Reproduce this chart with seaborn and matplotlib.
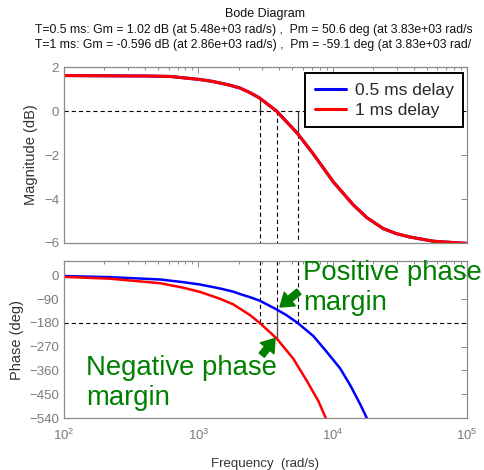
import numpy as np
import pandas as pd
import matplotlib
matplotlib.use("Agg")
import matplotlib.pyplot as plt
import seaborn as sns

# ---------------- data ----------------
series_names = ["0.5 ms delay", "1 ms delay"]
series_colors = ["#0000FF", "#FF0000"]

# magnitude (identical for both delays)
mag_freq = [100, 200, 400, 615, 1030, 1285, 1722, 2046, 2428, 2860, 3830, 5480,
            7180, 10110, 14260, 18000, 23860, 30000, 37670, 56240, 94000, 100000]
mag_db = [1.62, 1.61, 1.60, 1.58, 1.44, 1.35, 1.18, 1.05, 0.84, 0.596, 0.0, -1.02,
          -1.95, -3.22, -4.27, -4.85, -5.35, -5.58, -5.73, -5.92, -6.01, -6.02]

# phase, 0.5 ms delay
ph_freq_05 = [100, 220, 520, 770, 1030, 1450, 1820, 2040, 2430, 2860, 3830, 4500,
              5480, 7184, 9040, 11353, 13480, 15996, 17945, 18300]
ph_deg_05 = [-3, -7, -16, -26, -35, -50, -62, -71, -83, -96, -129.4, -150,
             -180, -230, -290, -352, -415, -487, -540, -552]

# phase, 1 ms delay
ph_freq_1 = [100, 220, 520, 770, 1030, 1450, 1820, 2430, 2860, 3830, 5098, 6414,
             7827, 8882, 9000]
ph_deg_1 = [-6, -13, -30, -47, -63, -89, -110, -151, -180, -239.1, -316, -399,
            -476, -540, -550]

# stability margins (from the title)
gm_db = [1.02, -0.596]
gm_freq = [5480, 2860]
pm_deg = [50.6, -59.1]
pm_freq = [3830, 3830]

title_main = "Bode Diagram"
title_lines = ["T=0.5 ms: Gm = 1.02 dB (at 5.48e+03 rad/s) ,  Pm = 50.6 deg (at 3.83e+03 rad/s",
               "T=1 ms: Gm = -0.596 dB (at 2.86e+03 rad/s) ,  Pm = -59.1 deg (at 3.83e+03 rad/"]
mag_ticks = [2, 0, -2, -4, -6]
phase_ticks = [0, -90, -180, -270, -360, -450, -540]

# ---------------- tables ----------------
mag_df = pd.concat([
    pd.DataFrame({"freq": mag_freq, "val": mag_db, "delay": series_names[0]}),
    pd.DataFrame({"freq": mag_freq, "val": mag_db, "delay": series_names[1]}),
])
ph_df = pd.concat([
    pd.DataFrame({"freq": ph_freq_05, "val": ph_deg_05, "delay": series_names[0]}),
    pd.DataFrame({"freq": ph_freq_1, "val": ph_deg_1, "delay": series_names[1]}),
])
palette = dict(zip(series_names, series_colors))

# ---------------- style ----------------
sns.set_style("white")
plt.rcParams["font.family"] = ["Liberation Sans", "DejaVu Sans"]
plt.rcParams["lines.scale_dashes"] = False

GRAY = "#8a8a8a"
TICKC = "#7a7a7a"
LABC = "#333333"
GREEN = "#008000"
DOT = (0, (3.0, 2.2))

fig = plt.figure(figsize=(4.84, 4.70), dpi=100)
ax1 = fig.add_axes([0.1322, 0.483, 0.8327, 0.374])
ax2 = fig.add_axes([0.1322, 0.1106, 0.8327, 0.3341])

sns.lineplot(data=mag_df, x="freq", y="val", hue="delay", hue_order=series_names,
             palette=palette, estimator=None, sort=True, linewidth=2.2, ax=ax1)
sns.lineplot(data=ph_df, x="freq", y="val", hue="delay", hue_order=series_names,
             palette=palette, estimator=None, sort=True, linewidth=1.8, ax=ax2,
             legend=False)

for ax in (ax1, ax2):
    ax.set_xscale("log")
    ax.set_xlim(1e2, 1e5)
    for s in ax.spines.values():
        s.set_color(GRAY)
        s.set_linewidth(0.9)
    ax.tick_params(which="both", direction="in", top=True, right=True,
                   color=GRAY, labelcolor=TICKC, labelsize=9.5, width=0.7)
    ax.tick_params(which="major", length=4)
    ax.tick_params(which="minor", length=2.5)
    ax.set_xlabel("")
    ax.set_ylabel("")

ax1.set_ylim(-6, 2)
ax1.set_yticks(mag_ticks)
ax1.tick_params(axis="x", which="both", labelbottom=False)
ax2.set_ylim(-540, 54)
ax2.set_yticks(phase_ticks)
ax2.tick_params(axis="x", pad=7)

ax1.set_ylabel("Magnitude (dB)", fontsize=10.5, color=LABC)
ax1.yaxis.set_label_coords(-0.064, 0.5)
ax2.set_ylabel("Phase (deg)", fontsize=10.5, color=LABC)
ax2.yaxis.set_label_coords(-0.099, 0.5)
ax2.set_xlabel("Frequency  (rad/s)", fontsize=9.5, color=LABC, labelpad=11)

# --- margin markers, magnitude plot ---
ax1.axhline(0, color="black", lw=0.8, ls=DOT, zorder=1)
for f, g in zip(gm_freq, gm_db):
    ax1.plot([f, f], [0, -g], color="#333333", lw=0.9, zorder=1)
    ax1.plot([f, f], [min(0, -g), -6], color="black", lw=0.8, ls=DOT, zorder=1)
ax1.plot([pm_freq[0], pm_freq[0]], [0, -6], color="black", lw=0.8, ls=DOT, zorder=1)

# --- margin markers, phase plot ---
ax2.axhline(-180, color="black", lw=0.8, ls=DOT, zorder=1)
for f in gm_freq:
    ax2.plot([f, f], [54, -180], color="black", lw=0.8, ls=DOT, zorder=1)
ph_05 = -180 + pm_deg[0]
ph_1 = -180 + pm_deg[1]
ax2.plot([pm_freq[0], pm_freq[0]], [54, ph_05], color="black", lw=0.8, ls=DOT, zorder=1)
ax2.plot([pm_freq[0], pm_freq[0]], [ph_05, ph_1], color="#555555", lw=1.0, zorder=1)

# --- legend ---
leg = ax1.legend(loc="upper right", bbox_to_anchor=(0.990, 0.966), borderaxespad=0,
                 fancybox=False, framealpha=1, edgecolor="black", fontsize=12.5,
                 handlelength=1.8, labelspacing=0.28, borderpad=0.55, handletextpad=0.5)
leg.get_frame().set_linewidth(1.4)
for h in leg.get_lines():
    h.set_linewidth(2.2)

# --- titles ---
fig.text(265 / 484, 1 - 14 / 470, title_main, ha="center", va="center",
         fontsize=9, color="#111111")
fig.text(35 / 484, 1 - 30 / 470, title_lines[0], ha="left", va="center",
         fontsize=8.8, color="#111111")
fig.text(35 / 484, 1 - 45 / 470, title_lines[1], ha="left", va="center",
         fontsize=8.8, color="#111111")

# --- annotations ---
ax2.text(6030, 58, "Positive phase\nmargin", color=GREEN, fontsize=19.8,
         ha="left", va="top", linespacing=1.18)
ax2.text(146, -302, "Negative phase\nmargin", color=GREEN, fontsize=19.8,
         ha="left", va="top", linespacing=1.18)
arrow = dict(arrowstyle="simple,head_length=0.65,head_width=0.9,tail_width=0.34",
             color=GREEN, mutation_scale=14, shrinkA=0, shrinkB=0)
ax2.annotate("", xy=(4055, -120), xytext=(5600, -62), arrowprops=arrow)
ax2.annotate("", xy=(3725, -239), xytext=(2965, -302), arrowprops=arrow)

fig.savefig("out.png", dpi=100)
